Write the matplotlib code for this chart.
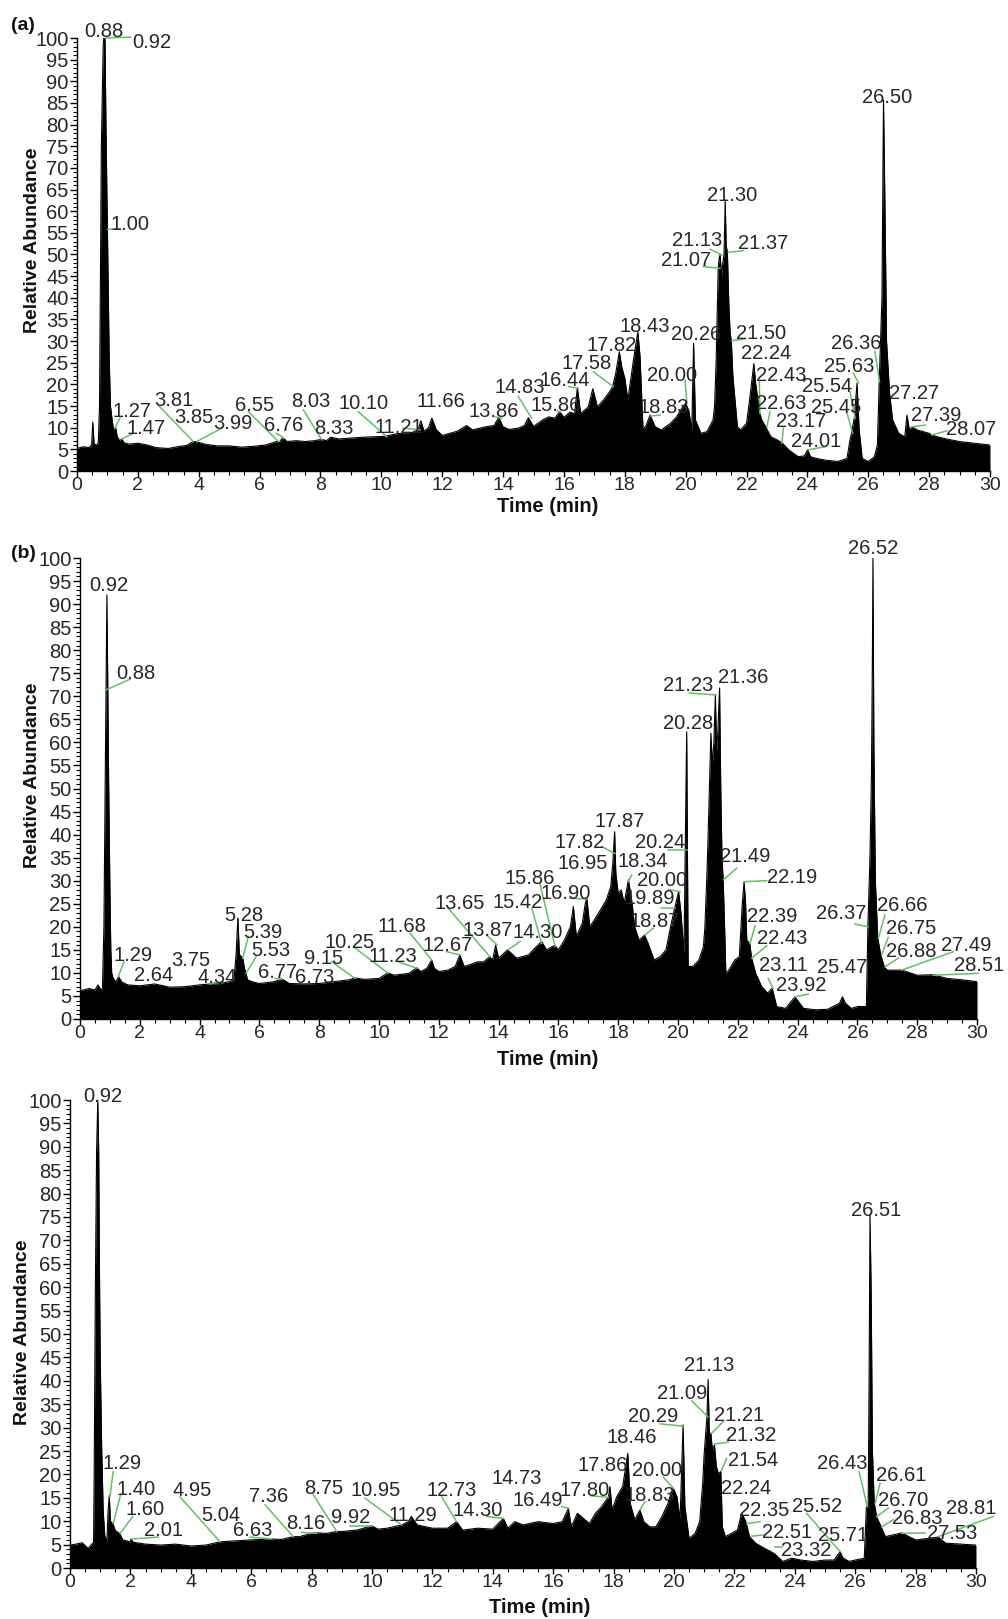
import matplotlib
matplotlib.use('Agg')
import matplotlib.pyplot as plt
from matplotlib.ticker import MultipleLocator

plt.rcParams['font.family'] = ['Liberation Sans', 'DejaVu Sans']

# ---------------- panel (a) ----------------
time_a = [0, 0.2, 0.4, 0.48, 0.52, 0.56, 0.65, 0.70, 0.74, 0.77, 0.80, 0.86, 0.88, 0.92, 0.95,
          0.98, 1.00, 1.02, 1.06, 1.10, 1.15, 1.20, 1.27, 1.32, 1.40, 1.47, 1.55, 1.7, 2.0, 2.3,
          2.6, 3.0, 3.3, 3.6, 3.81, 3.9, 4.2, 4.6, 5.0, 5.4, 5.8, 6.2, 6.55, 6.65, 6.76, 6.9,
          7.2, 7.5, 7.8, 8.03, 8.2, 8.33, 8.6, 9.0, 9.4, 9.8, 10.1, 10.5, 10.8, 11.0, 11.21,
          11.3, 11.4, 11.55, 11.66, 11.8, 12.0, 12.3, 12.5, 12.8, 13.0, 13.3, 13.5, 13.7, 13.86,
          14.0, 14.2, 14.5, 14.7, 14.83, 15.0, 15.3, 15.5, 15.7, 15.86, 16.0, 16.2, 16.35, 16.44,
          16.55, 16.8, 16.95, 17.1, 17.3, 17.5, 17.6, 17.7, 17.82, 17.9, 18.0, 18.1, 18.3, 18.43,
          18.5, 18.6, 18.7, 18.83, 19.0, 19.2, 19.5, 19.7, 19.9, 20.0, 20.1, 20.2, 20.26, 20.32,
          20.5, 20.7, 20.9, 20.95, 21.0, 21.05, 21.07, 21.1, 21.13, 21.18, 21.22, 21.26, 21.30,
          21.33, 21.37, 21.42, 21.46, 21.50, 21.55, 21.6, 21.7, 21.8, 22.0, 22.1, 22.24, 22.3,
          22.43, 22.5, 22.63, 22.8, 23.0, 23.17, 23.4, 23.7, 23.9, 24.01, 24.1, 24.3, 24.6, 25.0,
          25.3, 25.4, 25.45, 25.54, 25.63, 25.7, 25.8, 26.0, 26.2, 26.3, 26.36, 26.45, 26.50,
          26.55, 26.6, 26.7, 26.8, 27.0, 27.2, 27.27, 27.35, 27.44, 27.6, 28.0, 28.07, 28.5,
          29.0, 29.5, 30.0]
abund_a = [5.2, 5.6, 5.4, 6.0, 11.3, 6.2, 6.0, 6.5, 15, 45, 75, 98, 100, 100, 80,
           65, 56, 45, 25, 15, 12, 9.5, 10, 8, 7, 7.4, 6.5, 6.2, 6.4, 6.0,
           5.4, 5.2, 5.6, 5.9, 6.8, 6.8, 6.2, 5.8, 5.8, 5.5, 5.7, 6.0, 6.8, 6.6, 7.8, 6.8,
           7.0, 6.8, 7.0, 7.3, 7.0, 7.8, 7.4, 7.6, 7.8, 7.9, 8.0, 8.6, 8.8, 8.9, 9.5,
           11.6, 9.2, 10, 12.2, 9.6, 8.2, 8.8, 9.2, 10.5, 9.5, 10, 10.3, 10.5, 12.4,
           10.2, 9.6, 9.9, 10.5, 12.3, 10.3, 11.8, 12.5, 12.2, 13.7, 12.4, 13.6, 13.2, 19.2,
           13.3, 14.8, 19.0, 14.8, 16.4, 18.3, 19.5, 22.5, 27.5, 24, 21.4, 16.4, 26.4, 32.1,
           26.4, 9.5, 10.5, 12.9, 10.2, 9.5, 11, 12.5, 14.8, 15.6, 14, 9.5, 29.5, 11.8,
           8.7, 9.1, 11.8, 15, 25, 40, 47, 49, 50, 45, 48, 50, 62.6,
           52, 50.6, 38, 32, 30, 22, 18, 10.2, 9.5, 11, 16.4, 24.8, 20.2,
           13.4, 11.8, 10.2, 7.9, 7.2, 6.5, 4.8, 3.3, 3.5, 4.9, 3.3, 2.9, 2.5, 2.2,
           2.9, 7.2, 8.7, 12.2, 20.3, 9.5, 2.9, 2.2, 3.3, 6, 20.6, 40, 85.7,
           60, 30, 17.9, 11.8, 8.7, 7.9, 12.9, 9.5, 10.2, 9.5, 8.7, 8.3, 7.5,
           6.8, 6.4, 6.0]

labels_a = ['0.88', '0.92', '1.00', '1.27', '1.47', '3.81', '3.85', '3.99', '6.55', '6.76',
            '8.03', '8.33', '10.10', '11.21', '11.66', '13.86', '14.83', '15.86', '16.44',
            '17.58', '17.82', '18.43', '18.83', '20.00', '20.26', '21.07', '21.13', '21.30',
            '21.37', '21.50', '22.24', '22.43', '22.63', '23.17', '24.01', '25.45', '25.54',
            '25.63', '26.36', '26.50', '27.27', '27.39', '28.07']
label_x_a = [0.89, 2.45, 1.74, 1.82, 2.28, 3.19, 3.84, 5.11, 5.85, 6.80,
             7.69, 8.45, 9.43, 10.57, 11.96, 13.70, 14.56, 15.74, 16.04,
             16.73, 17.57, 18.67, 19.27, 19.55, 20.34, 20.01, 20.39, 21.54,
             22.56, 22.49, 22.64, 23.13, 23.13, 23.79, 24.29, 24.94, 24.66,
             25.37, 25.60, 26.63, 27.51, 28.23, 29.38]
label_y_a = [102.0, 99.5, 57.4, 14.1, 10.3, 16.7, 12.8, 11.4, 15.6, 11.0,
             16.5, 10.3, 16.1, 10.6, 16.4, 14.1, 19.7, 15.6, 21.3,
             25.3, 29.4, 33.8, 15.2, 22.5, 32.0, 49.1, 53.7, 64.1,
             53.0, 32.2, 27.6, 22.5, 16.1, 11.9, 7.2, 15.1, 19.9,
             24.5, 29.9, 86.8, 18.4, 13.3, 10.0]
# leader lines (x0, y0) -> (x1, y1)
lead_x0_a = [0.95, 1.00, 1.41, 1.85, 2.67, 4.76, 5.63, 6.56, 7.44, 9.24, 10.72, 13.74, 14.50,
             15.78, 16.15, 16.97, 18.85, 19.98, 20.58, 20.80, 21.40, 21.51, 22.42, 22.77, 23.21,
             24.03, 25.29, 25.40, 25.51, 26.22, 27.43, 28.09]
lead_y0_a = [100.0, 55.8, 12.2, 8.7, 15.2, 9.9, 13.7, 8.7, 14.1, 13.7, 9.9, 12.5, 17.2,
             13.9, 19.5, 22.9, 12.7, 21.0, 47.2, 51.2, 50.5, 30.1, 20.6, 13.7, 9.9,
             4.9, 13.7, 18.3, 22.6, 27.6, 10.2, 8.3]
lead_x1_a = [1.77, 1.41, 1.25, 1.47, 3.82, 3.93, 6.62, 6.80, 8.04, 10.18, 11.27, 13.96, 14.94,
             15.89, 16.47, 17.62, 19.16, 20.04, 21.13, 21.19, 21.90, 21.95, 22.44, 22.67, 23.16,
             24.58, 25.49, 25.57, 25.68, 26.37, 27.87, 28.58]
lead_y1_a = [100.2, 56.0, 9.9, 7.4, 6.8, 6.8, 6.8, 7.5, 7.2, 7.9, 9.5, 12.2, 12.2,
             13.6, 19.1, 19.5, 12.9, 15.6, 46.8, 49.9, 50.9, 30.5, 13.3, 10.2, 6.4,
             5.6, 8.7, 12.2, 20.3, 20.6, 10.6, 9.3]

# ---------------- panel (b) ----------------
time_b = [0, 0.3, 0.5, 0.6, 0.7, 0.75, 0.8, 0.84, 0.87, 0.90, 0.93, 0.96, 1.0, 1.03, 1.06,
          1.1, 1.2, 1.29, 1.4, 1.6, 2.0, 2.5, 3.0, 3.5, 4.0, 4.35, 4.6, 5.0, 5.15, 5.22, 5.28,
          5.33, 5.44, 5.5, 5.55, 5.6, 5.8, 6.0, 6.5, 6.75, 7.0, 7.5, 8.0, 8.5, 9.0, 9.2, 9.5,
          10.0, 10.3, 10.5, 11.0, 11.26, 11.4, 11.6, 11.76, 11.85, 12.0, 12.3, 12.55, 12.7,
          12.85, 13.0, 13.3, 13.5, 13.7, 13.8, 13.9, 14.0, 14.3, 14.6, 15.0, 15.2, 15.44, 15.6,
          15.88, 16.0, 16.2, 16.4, 16.5, 16.6, 16.8, 16.9, 16.95, 17.05, 17.2, 17.4, 17.6,
          17.75, 17.82, 17.88, 17.92, 18.0, 18.1, 18.2, 18.34, 18.45, 18.55, 18.7, 18.88, 19.0,
          19.2, 19.4, 19.6, 19.75, 19.9, 20.02, 20.1, 20.2, 20.29, 20.34, 20.5, 20.7, 20.85,
          20.9, 20.96, 21.0, 21.05, 21.1, 21.15, 21.2, 21.25, 21.29, 21.33, 21.39, 21.43,
          21.47, 21.51, 21.55, 21.6, 21.7, 21.9, 22.05, 22.15, 22.21, 22.26, 22.3, 22.4, 22.46,
          22.6, 22.8, 23.0, 23.15, 23.3, 23.6, 23.91, 24.2, 24.6, 25.0, 25.4, 25.5, 25.6, 25.8,
          26.0, 26.3, 26.35, 26.42, 26.47, 26.5, 26.52, 26.55, 26.6, 26.68, 26.78, 26.9, 27.0,
          27.48, 28.0, 28.52, 29.0, 29.5, 30.0]
abund_b = [6.1, 6.6, 6.3, 7.4, 6.3, 6.5, 20, 50, 71, 92, 71, 50, 28, 15, 10,
           9, 8, 9.2, 8, 7.4, 7.2, 7.6, 6.9, 7.0, 7.4, 7.6, 7.6, 8.1, 8.5, 14, 21.9,
           14, 13.2, 11, 10, 8.5, 8.0, 7.7, 8.1, 8.7, 7.7, 7.6, 7.7, 8.1, 8.5, 8.9, 8.6,
           8.8, 10, 9.5, 9.9, 11.1, 10.3, 11, 12.8, 11, 10.3, 10.6, 11.4, 13.9,
           11.4, 11.7, 12.4, 12.4, 13.5, 12.8, 16, 13.2, 15, 13.2, 13.9, 15.3, 16.8, 15,
           16, 15, 17.1, 20, 24.4, 17.9, 20.8, 25.1, 26.2, 20, 21.5, 23.6, 25.8,
           28.7, 33.8, 40.6, 31.6, 27.3, 28, 25.1, 30.2, 25.8, 20, 17.1, 18.2, 16.4,
           12.8, 13.5, 15, 20, 24.4, 27.6, 22.9, 14.2, 62.3, 11.4, 11.4, 12.8, 15.7,
           20, 30, 38, 50, 62, 55, 60, 70.3, 58, 62, 71.8, 50,
           35, 30.2, 22, 9.9, 10.6, 12.8, 13.5, 25, 29.8, 25, 17.1, 16.4, 13.2,
           9.9, 7.0, 5.6, 6.7, 2.7, 2.3, 4.8, 2.3, 2.0, 2.1, 3.4, 4.8, 3.4, 2.3,
           2.7, 2.7, 20, 35, 53, 77, 100, 60, 30, 17.6, 13.9, 11.3, 10.6,
           10.6, 9.5, 9.6, 8.8, 8.5, 8.1]

labels_b = ['0.92', '0.88', '1.29', '2.64', '3.75', '4.34', '5.28', '5.39', '5.53', '6.77',
            '6.73', '9.15', '10.25', '11.23', '11.68', '12.67', '13.65', '13.87', '14.30',
            '15.42', '15.86', '16.90', '16.95', '17.82', '17.87', '18.34', '20.00', '20.24',
            '19.89', '18.87', '21.23', '21.36', '20.28', '26.52', '21.49', '22.19', '22.39',
            '22.43', '23.11', '23.92', '25.47', '26.37', '26.66', '26.75', '26.88', '27.49',
            '28.51']
label_x_b = [0.97, 1.87, 1.76, 2.47, 3.71, 4.60, 5.48, 6.10, 6.39, 6.61,
             7.86, 8.16, 9.00, 10.45, 10.78, 12.29, 12.71, 13.63, 15.30,
             14.63, 15.05, 16.25, 16.81, 16.72, 18.06, 18.81, 19.46, 19.40,
             19.06, 19.21, 20.33, 22.17, 20.33, 26.54, 22.24, 23.83, 23.16,
             23.48, 23.54, 24.11, 25.50, 25.45, 27.49, 27.79, 27.81, 29.63,
             30.07]
label_y_b = [94.5, 75.4, 14.2, 9.9, 13.1, 9.5, 22.9, 19.3, 15.3, 10.6,
             9.5, 13.6, 17.1, 13.9, 20.4, 16.4, 25.5, 19.6, 19.3,
             25.8, 30.9, 27.7, 34.2, 38.8, 43.3, 34.5, 30.4, 38.8,
             26.6, 21.6, 72.8, 74.6, 64.5, 102.5, 35.6, 31.2, 22.6,
             18.0, 12.0, 7.7, 11.7, 23.3, 25.0, 20.1, 15.1, 16.4,
             12.0]
lead_x0_b = [0.87, 1.47, 4.35, 5.63, 5.89, 6.52, 8.42, 9.14, 10.65, 11.04, 12.26, 12.32, 13.60,
             14.72, 15.11, 15.38, 16.39, 17.45, 18.45, 19.68, 19.68, 19.45, 19.17, 20.38, 21.96,
             22.24, 22.58, 22.97, 23.02, 23.91, 25.92, 26.92, 27.03, 27.37, 29.21, 28.54]
lead_y0_b = [71.4, 12.4, 7.6, 17.9, 13.5, 8.8, 12.4, 15.7, 12.4, 18.6, 14.6, 24.0, 18.2,
             16.8, 24.0, 29.4, 26.2, 37.4, 31.2, 36.7, 28.1, 24.1, 19.7, 70.7, 32.7,
             29.8, 20.2, 15.9, 8.8, 4.8, 20.6, 22.6, 17.7, 13.2, 14.6, 9.5]
lead_x1_b = [1.67, 1.28, 4.57, 5.44, 5.55, 6.75, 9.20, 10.31, 11.26, 11.76, 12.71, 13.71, 13.94,
             14.32, 15.44, 15.89, 16.95, 17.89, 18.34, 20.29, 20.07, 19.90, 18.90, 21.27, 21.52,
             22.97, 22.41, 22.47, 23.17, 24.36, 26.36, 26.70, 26.81, 26.92, 27.48, 30.04]
lead_y1_b = [73.7, 9.2, 8.0, 13.2, 9.9, 8.6, 8.8, 9.9, 11.0, 12.8, 13.9, 13.5, 16.1,
             15.0, 16.4, 15.7, 26.0, 35.9, 29.8, 36.7, 27.6, 24.0, 18.2, 70.3, 30.2,
             30.0, 16.4, 13.2, 6.7, 5.4, 20.0, 17.5, 13.9, 11.3, 10.6, 9.9]

# ---------------- panel (c) ----------------
time_c = [0, 0.2, 0.4, 0.6, 0.75, 0.78, 0.8, 0.84, 0.88, 0.92, 0.95, 0.98, 1.0, 1.05, 1.1,
          1.15, 1.22, 1.26, 1.3, 1.34, 1.42, 1.5, 1.64, 1.75, 2.0, 2.02, 2.1, 2.5, 3.0, 3.5,
          4.0, 4.5, 4.97, 5.5, 6.0, 6.66, 7.0, 7.39, 7.6, 8.0, 8.17, 8.5, 8.83, 9.0, 9.5, 9.99,
          10.2, 10.5, 10.98, 11.2, 11.3, 11.5, 12.0, 12.5, 12.8, 13.0, 13.5, 14.0, 14.35, 14.5,
          14.73, 15.0, 15.5, 16.0, 16.3, 16.5, 16.6, 16.8, 17.0, 17.2, 17.4, 17.6, 17.83, 17.88,
          17.95, 18.1, 18.3, 18.47, 18.55, 18.7, 18.87, 19.0, 19.2, 19.4, 19.6, 19.8, 19.9,
          19.98, 20.1, 20.2, 20.3, 20.36, 20.5, 20.7, 20.85, 20.95, 21.0, 21.05, 21.09, 21.13,
          21.17, 21.22, 21.27, 21.34, 21.4, 21.47, 21.55, 21.6, 21.7, 21.9, 22.1, 22.24, 22.38,
          22.5, 22.7, 23.0, 23.32, 23.6, 23.9, 24.2, 24.6, 25.0, 25.3, 25.5, 25.6, 25.8, 26.0,
          26.3, 26.37, 26.43, 26.46, 26.49, 26.53, 26.57, 26.63, 26.71, 26.86, 27.0, 27.54,
          28.0, 28.75, 29.0, 29.5, 30.0]
abund_c = [4.9, 5.1, 5.4, 4.2, 5.3, 5, 20, 60, 89, 100, 89, 60, 45, 25, 12,
           7, 5.5, 12, 15.5, 10, 9.5, 8, 7.4, 6, 5.6, 6.2, 5.5, 5.1, 4.9, 5.1,
           4.7, 4.9, 5.6, 5.8, 6.0, 6.2, 6.1, 6.7, 6.7, 7.4, 7.5, 7.4, 7.8, 7.8, 8.1, 9.0,
           8.3, 8.5, 9.2, 9.9, 11, 9.2, 8.5, 8.5, 9.9, 8.1, 8.5, 8.3, 10.6, 8.5,
           9.9, 9.2, 9.9, 9.5, 9.9, 12.7, 8.8, 11.7, 10.6, 9.5, 11.7, 13.1, 15.2, 17.4,
           12.4, 15.2, 17.4, 24.5, 13.8, 10.3, 12.4, 9.9, 8.8, 8.8, 11, 13.8, 16,
           17, 15.2, 10.3, 30.6, 13.1, 6.3, 7.4, 9.9, 18.1, 24.5, 28.8, 32.3, 40.3,
           28, 28.8, 25.2, 26.3, 21.7, 20.2, 20.6, 8.8, 6.7, 7.4, 8.1, 11.7, 9.9,
           6.7, 5.3, 4.2, 3.1, 1.4, 2.1, 1.7, 1.4, 1.7, 1.7, 3.5, 2.1, 1.4, 1.7,
           2.1, 13.1, 13.1, 40, 75.4, 58, 25, 13.9, 10.9, 8.8, 6.7, 7.5,
           6.0, 6.6, 5.3, 5.1, 4.9]

labels_c = ['0.92', '1.29', '1.40', '1.60', '2.01', '4.95', '5.04', '6.63', '7.36', '8.16',
            '8.75', '9.92', '10.95', '11.29', '12.73', '14.30', '14.73', '16.49', '17.80',
            '17.86', '18.46', '18.83', '20.00', '20.29', '21.09', '21.13', '21.21', '21.32',
            '21.54', '22.24', '22.35', '22.51', '23.32', '25.52', '25.71', '26.43', '26.61',
            '26.70', '26.83', '28.81', '27.53', '26.51']
label_x_c = [1.08, 1.74, 2.19, 2.48, 3.10, 4.06, 5.00, 6.04, 6.57, 7.81,
             8.41, 9.30, 10.13, 11.34, 12.63, 13.49, 14.80, 15.48, 17.05,
             17.63, 18.61, 19.20, 19.45, 19.32, 20.28, 21.16, 22.14, 22.55,
             22.61, 22.40, 22.98, 23.76, 24.37, 24.75, 25.61, 25.58, 27.52,
             27.58, 28.06, 29.85, 29.22, 26.69]
label_y_c = [101.2, 22.8, 17.2, 12.9, 8.4, 17.0, 11.6, 8.4, 15.6, 9.9,
             17.4, 11.3, 17.0, 11.6, 17.0, 12.7, 19.6, 14.9, 17.0,
             22.3, 28.4, 15.9, 21.3, 32.7, 37.7, 43.7, 33.0, 28.7,
             23.4, 17.4, 12.7, 8.1, 4.2, 13.5, 7.4, 22.8, 20.2,
             14.9, 11.0, 13.1, 7.8, 76.8]
lead_x0_c = [1.43, 1.68, 2.08, 2.04, 3.64, 5.96, 6.46, 7.67, 8.06, 9.27, 9.77, 12.31, 13.80,
             16.28, 17.27, 19.04, 19.65, 19.54, 20.59, 21.63, 21.80, 21.74, 22.41, 22.57, 23.34,
             24.39, 26.13, 26.82, 27.10, 27.26, 27.54, 30.57]
lead_y0_c = [20.6, 15.8, 11.0, 6.2, 15.2, 6.6, 13.5, 7.6, 15.6, 9.0, 14.9, 15.2, 11.0,
             13.1, 15.4, 14.2, 19.4, 30.8, 35.7, 31.3, 26.9, 23.4, 9.5, 6.8, 4.4,
             11.7, 20.6, 18.1, 12.8, 10.3, 7.4, 11.0]
lead_x1_c = [1.32, 1.43, 1.66, 2.92, 4.97, 6.68, 7.39, 8.17, 8.83, 9.99, 10.98, 12.80, 14.35,
             16.50, 17.83, 18.87, 19.98, 20.31, 21.12, 21.25, 21.36, 21.58, 22.85, 23.01, 23.57,
             25.50, 26.40, 26.66, 26.71, 26.88, 28.31, 28.75]
lead_y1_c = [15.2, 9.5, 7.4, 6.6, 5.6, 6.2, 6.7, 7.4, 7.8, 9.0, 9.2, 9.9, 10.6,
             12.8, 15.1, 12.4, 17.0, 30.3, 32.3, 28.8, 26.5, 20.9, 9.9, 7.1, 4.4,
             3.5, 13.1, 13.8, 11.0, 8.8, 7.5, 6.7]

W, H = 1008, 1619
GREEN = '#5cc55c'
TXT = '#262626'

fig = plt.figure(figsize=(W / 100, H / 100), dpi=100)


def px_axes(left, top, right, bottom):
    return fig.add_axes([left / W, 1 - bottom / H, (right - left) / W, (bottom - top) / H])


def draw_panel(ax, t, v, labels, lx, ly, x0, y0, x1, y1):
    ax.fill_between(t, v, 0, color='black', lw=0, zorder=1)
    ax.plot(t, v, color='black', lw=0.8, zorder=2)
    for a, b, c, d in zip(x0, y0, x1, y1):
        ax.plot([a, c], [b, d], color=GREEN, lw=1.1, clip_on=False, zorder=3)
    for s, x, y in zip(labels, lx, ly):
        ax.text(x, y, s, ha='center', va='center_baseline', fontsize=14.5,
                color=TXT, zorder=4, clip_on=False)
    ax.set_xlim(0, 30)
    ax.set_ylim(0, 100)
    ax.xaxis.set_major_locator(MultipleLocator(2))
    ax.xaxis.set_minor_locator(MultipleLocator(0.5))
    ax.yaxis.set_major_locator(MultipleLocator(5))
    ax.yaxis.set_minor_locator(MultipleLocator(1))
    ax.tick_params(which='major', direction='out', length=5, width=1, labelsize=14.5,
                   labelcolor=TXT, pad=1)
    ax.tick_params(axis='x', which='major', length=4, labelsize=14, pad=0.5)
    ax.tick_params(which='minor', direction='out', length=3, width=0.8)
    for side in ('top', 'right'):
        ax.spines[side].set_visible(False)
    ax.spines['left'].set_linewidth(1)
    ax.spines['bottom'].set_linewidth(1)


ax_a = px_axes(77, 38, 990, 471)
draw_panel(ax_a, time_a, abund_a, labels_a, label_x_a, label_y_a,
           lead_x0_a, lead_y0_a, lead_x1_a, lead_y1_a)
ax_b = px_axes(80, 558, 977, 1019)
draw_panel(ax_b, time_b, abund_b, labels_b, label_x_b, label_y_b,
           lead_x0_b, lead_y0_b, lead_x1_b, lead_y1_b)
ax_c = px_axes(70, 1100, 976, 1568)
draw_panel(ax_c, time_c, abund_c, labels_c, label_x_c, label_y_c,
           lead_x0_c, lead_y0_c, lead_x1_c, lead_y1_c)


def fig_text(x, y, s, **kw):
    fig.text(x / W, 1 - y / H, s, ha='center', va='center', fontweight='bold',
             color='#111111', **kw)


fig_text(23, 25, '(a)', fontsize=14)
fig_text(23, 553, '(b)', fontsize=14)
fig_text(33, 240, 'Relative Abundance', fontsize=14, rotation=90)
fig_text(33, 775, 'Relative Abundance', fontsize=14, rotation=90)
fig_text(23, 1332, 'Relative Abundance', fontsize=14, rotation=90)
fig_text(548, 506, 'Time (min)', fontsize=14.5)
fig_text(548, 1059, 'Time (min)', fontsize=14.5)
fig_text(540, 1607, 'Time (min)', fontsize=14.5)

fig.savefig('out.png', dpi=100)
